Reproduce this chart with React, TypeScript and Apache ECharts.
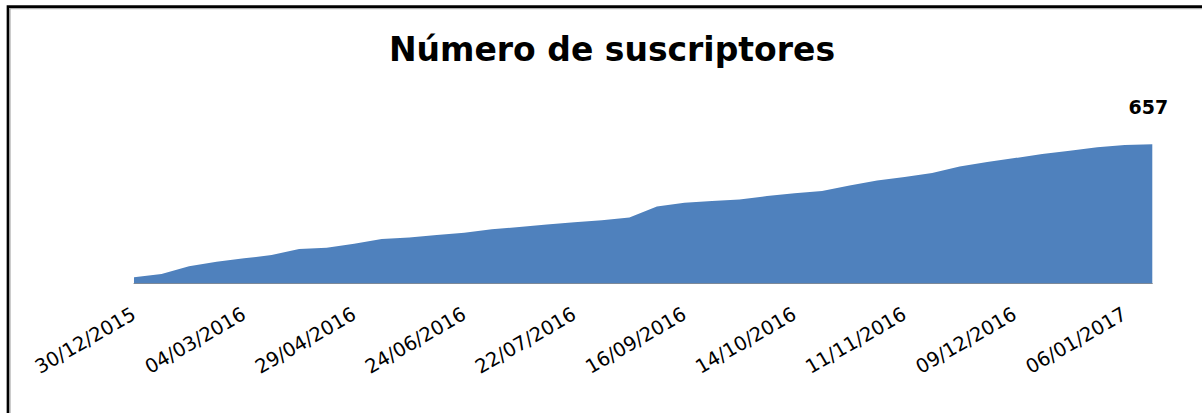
import React, { useEffect, useRef } from "react";
import * as echarts from "echarts";

const categories: string[] = [
  "30/12/2015", "15/01/2016", "29/01/2016", "12/02/2016", "04/03/2016", "18/03/2016",
  "01/04/2016", "15/04/2016", "29/04/2016", "13/05/2016", "27/05/2016", "10/06/2016",
  "24/06/2016", "01/07/2016", "08/07/2016", "15/07/2016", "22/07/2016", "29/07/2016",
  "05/08/2016", "09/09/2016", "16/09/2016", "23/09/2016", "30/09/2016", "07/10/2016",
  "14/10/2016", "21/10/2016", "28/10/2016", "04/11/2016", "11/11/2016", "18/11/2016",
  "25/11/2016", "02/12/2016", "09/12/2016", "16/12/2016", "23/12/2016", "30/12/2016",
  "06/01/2017", "13/01/2017",
];

const subscribers: number[] = [
  29, 45, 81, 103, 119, 134, 163, 169, 188, 210, 217, 229, 240, 256, 267, 278, 289, 298,
  311, 363, 381, 389, 396, 413, 426, 437, 462, 486, 503, 521, 552, 573, 592, 611, 627, 643,
  654, 657,
];

const titleText = "Número de suscriptores";

export default function App() {
  const ref = useRef<HTMLDivElement>(null);
  useEffect(() => {
    if (!ref.current) return;
    const chart = echarts.init(ref.current, null, { renderer: "svg" });
    const last = subscribers.length - 1;
    chart.setOption({
      animation: false,
      backgroundColor: "#ffffff",
      grid: { left: 134, right: 49.7, top: 135.2, bottom: 129.5, containLabel: false },
      xAxis: {
        type: "category",
        data: categories,
        boundaryGap: false,
        axisLine: { show: true, lineStyle: { color: "#8c8c8c", width: 1 } },
        axisTick: { show: false },
        splitLine: { show: false },
        axisLabel: {
          interval: 3,
          rotate: 30,
          margin: 29,
          color: "#000000",
          fontFamily: "DejaVu Sans",
          fontSize: 19.5,
        },
      },
      yAxis: {
        type: "value",
        min: 0,
        max: 700,
        show: false,
        splitLine: { show: false },
      },
      graphic: [
        {
          type: "rect",
          shape: { x: 8, y: 6.7, width: 1260, height: 460 },
          style: { fill: "none", stroke: "#000000", lineWidth: 2.7 },
          silent: true,
        },
        {
          type: "polyline",
          shape: { points: [[10, 460], [10, 8.7], [1260, 8.7]] },
          style: { fill: "none", stroke: "#9a9a9a", lineWidth: 1 },
          silent: true,
        },
        {
          type: "text",
          x: 612,
          y: 49,
          style: {
            text: titleText,
            fill: "#000000",
            font: "bold 33px 'DejaVu Sans'",
            textAlign: "center",
            textVerticalAlign: "middle",
          },
        },
      ],
      series: [
        {
          type: "line",
          data: subscribers.map((v, i) =>
            i === last
              ? {
                  value: v,
                  label: {
                    show: true,
                    position: "top",
                    distance: 27,
                    offset: [-4, 0],
                    color: "#000000",
                    fontFamily: "DejaVu Sans",
                    fontWeight: "bold",
                    fontSize: 19,
                  },
                }
              : v
          ),
          showSymbol: true,
          symbol: "circle",
          symbolSize: 1,
          lineStyle: { width: 0, color: "#4f81bd" },
          itemStyle: { color: "rgba(79,129,189,0)", borderWidth: 0 },
          areaStyle: { color: "#4f81bd", opacity: 1 },
          label: { show: false },
        },
      ],
    });
    return () => chart.dispose();
  }, []);
  return (
    <div
      ref={ref}
      style={{ position: "fixed", left: 0, top: 0, width: 1202, height: 413, background: "#fff" }}
    />
  );
}
